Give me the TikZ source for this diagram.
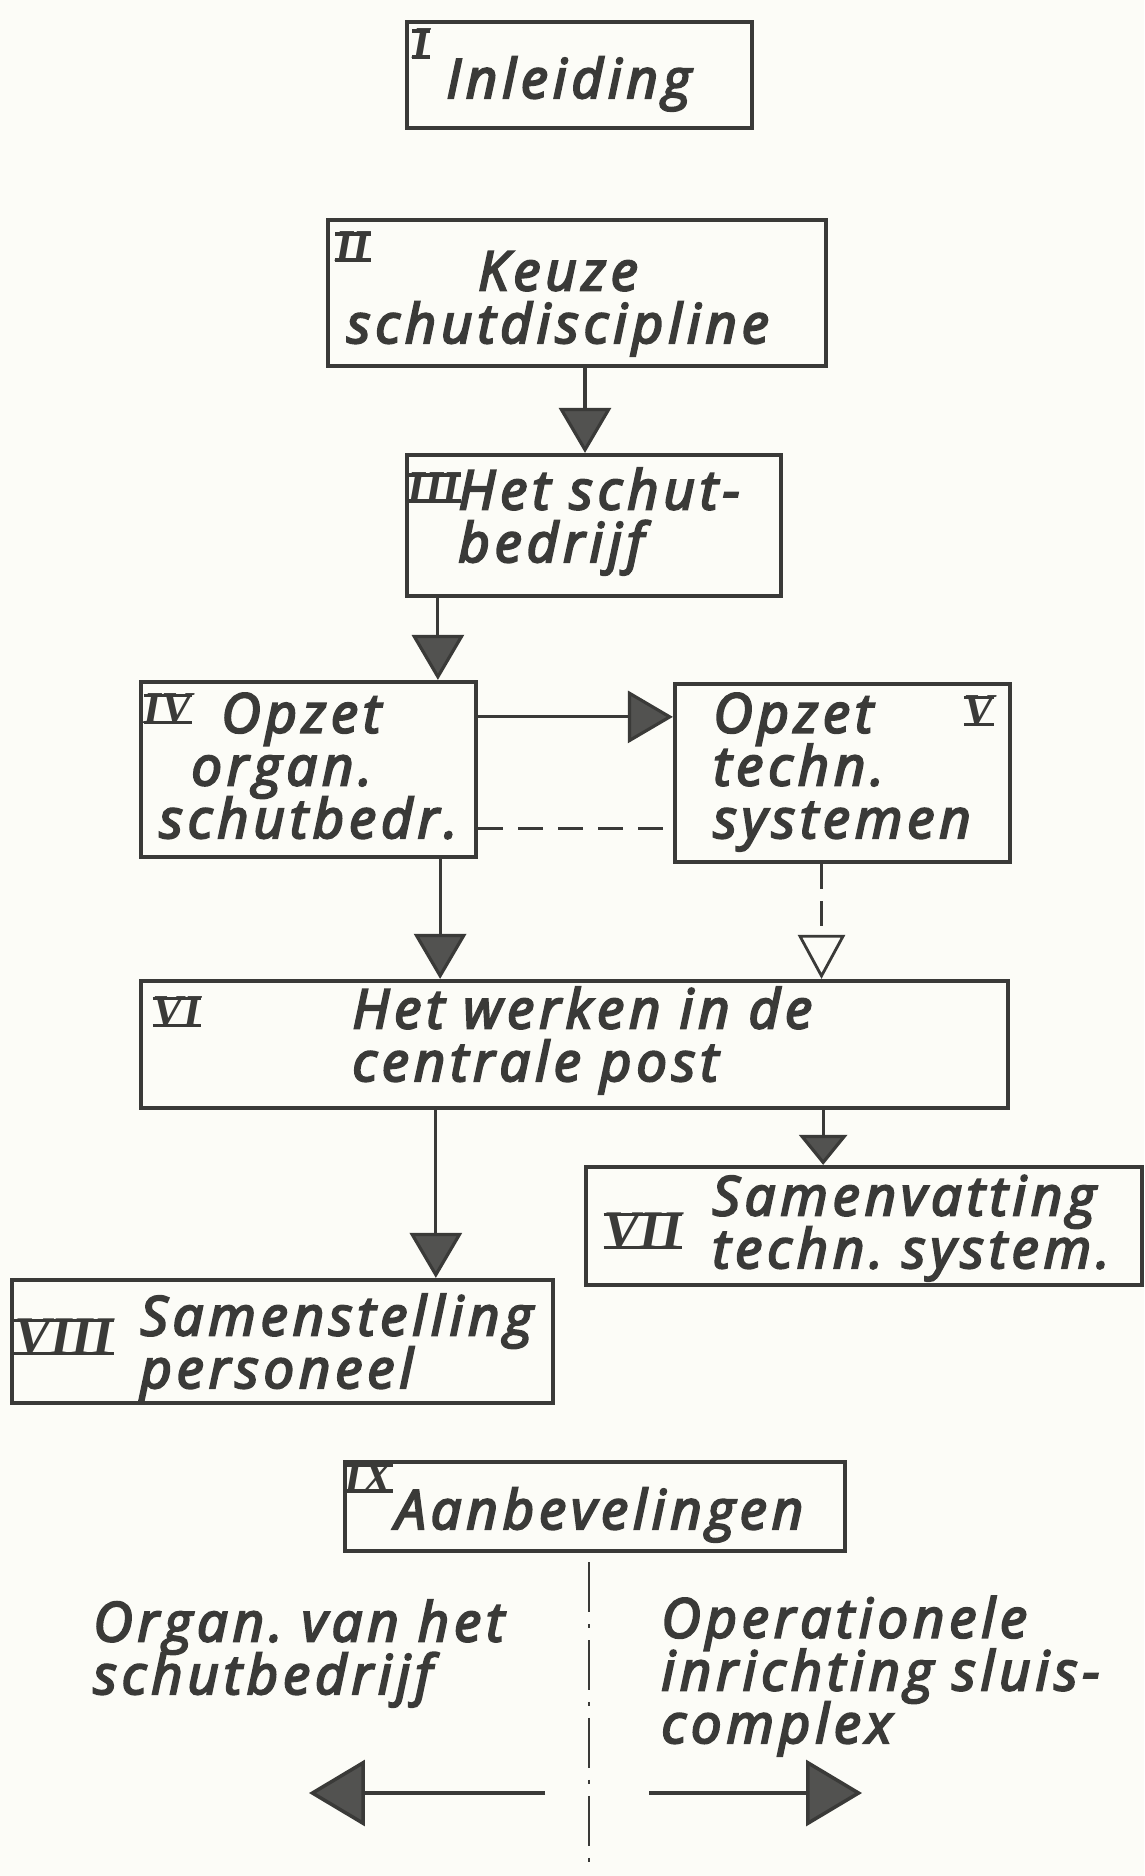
\documentclass[tikz,border=0pt]{standalone}
\usepackage{fontspec}
\setmainfont{Open Sans}[LetterSpace=9,ItalicFeatures={FakeBold=4}]
\newfontfamily\numfont{Liberation Serif}
\usetikzlibrary{arrows.meta,positioning,fit}
\definecolor{ink}{HTML}{3A3A38}
\definecolor{tipfill}{HTML}{525250}
\definecolor{paper}{HTML}{FCFCF7}
% roman chapter numbers with a bar above and below
\newcommand\rn[1]{{\setbox0=\hbox{\numfont\bfseries\itshape#1}%
  \vbox{\hrule height 2pt width \wd0\kern-2pt\box0\kern-2pt\hrule height 2pt}}}
% lines of a label keep their baseline distance even when letters touch
\newcommand\tightlines{\lineskiplimit=-40pt\relax}

\begin{document}
\begin{tikzpicture}[x=0.02cm,y=-0.02cm,
   font=\fontsize{31}{30}\selectfont\itshape\tightlines,text=ink,
   box/.style={draw=ink,line width=2.4pt,inner sep=0pt},
   txt/.style={inner sep=0pt,align=left,anchor=base west},
   num/.style={inner sep=0pt,font=\fontsize{26}{26}\selectfont},
   bignum/.style={num,font=\fontsize{31}{31}\selectfont},
   flow/.style={draw=ink,line width=1.8pt,
                -{Triangle[width=1.04cm,length=0.9cm,fill=tipfill]}},
   shortflow/.style={flow,-{Triangle[width=0.96cm,length=0.6cm,fill=tipfill]}},
   link/.style={draw=ink,line width=1.6pt,dash pattern=on 0.5cm off 0.3cm},
   linkflow/.style={link,dash pattern=on 0.5cm off 0.24cm,
                -{Triangle[open,width=0.94cm,length=0.88cm,line width=1.6pt]}},
   bigflow/.style={draw=ink,line width=2pt,
                -{Triangle[width=1.32cm,length=1.12cm,fill=tipfill]}},
   axis/.style={draw=ink,line width=1.3pt,
                dash pattern=on 1.0cm off 0.24cm on 0.08cm off 0.24cm}]
  \path[use as bounding box,fill=paper] (0,0) rectangle (1144,1876);

  % chapter boxes
  \node[box,fit={(407,22) (752,128)}] (i) {};
  \node[box,fit={(328,220) (826,366)}] (ii) {};
  \node[box,fit={(407,455) (781,596)}] (iii) {};
  \node[box,fit={(141,682) (476,857)}] (iv) {};
  \node[box,fit={(675,684) (1010,862)}] (v) {};
  \node[box,fit={(141,981) (1008,1108)}] (vi) {};
  \node[box,fit={(586,1167) (1142,1285)}] (vii) {};
  \node[box,fit={(12,1280) (553,1403)}] (viii) {};
  \node[box,fit={(345,1462) (845,1551)}] (ix) {};

  \node[num] (i-n) at (421,44) {\rn{I}};
  \node[num] (ii-n) at (353,247) {\rn{II}};
  \node[num] (iii-n) at (434,488) {\rn{III}};
  \node[num] (iv-n) at (168,709) {\rn{IV}};
  \node[num] (v-n) at (979,711) {\rn{V}};
  \node[num] (vi-n) at (177,1012) {\rn{VI}};
  \node[bignum] (vii-n) at (643,1231) {\rn{VII}};
  \node[bignum] (viii-n) at (64,1337) {\rn{VIII}};
  \node[num] (ix-n) at (369,1478) {\rn{IX}};

  % texts, placed by the baseline of their last line
  \node[txt] (i-t) at (446,98) {Inleiding};
  \node[txt,align=center,anchor=base] (ii-t) at (558,343) {Keuze\\schutdiscipline};
  \node[txt] (iii-t) at (458,562) {Het schut-\\bedrijf};
  \node[txt] (iv-t) at (159,838)
    {\hspace{1.24cm}Opzet\\\hspace{0.64cm}organ.\\schutbedr.};
  \node[txt] (v-t) at (713,838) {Opzet\\techn.\\systemen};
  \node[txt] (vi-t) at (352,1081) {Het werken in de\\centrale post};
  \node[txt] (vii-t) at (712,1268) {Samenvatting\\techn.\ system.};
  \node[txt] (viii-t) at (140,1388) {Samenstelling\\personeel};
  \node[txt] (ix-t) at (395,1529) {Aanbevelingen};

  \node[txt] (org) at (93,1694) {Organ.\ van het\\schutbedrijf};
  \node[txt] (ops) at (661,1743) {Operationele\\inrichting sluis-\\complex};

  % connectors
  \draw[flow] ([xshift=0.16cm]ii.south) -- ([xshift=0.16cm]ii.south |- iii.north);
  \draw[flow] ([xshift=0.66cm]iii.south west) -- ([xshift=0.66cm]iii.south west |- iv.north);
  \draw[flow] ([yshift=-0.74cm]iv.north east) -- ([yshift=-0.74cm]iv.north east -| v.west);
  \draw[link] ([yshift=0.62cm]iv.south east) -- ([yshift=0.62cm]iv.south east -| v.west);
  \draw[flow] ([xshift=-0.76cm]iv.south east) -- ([xshift=-0.76cm]iv.south east |- vi.north);
  \draw[linkflow] ([xshift=-0.42cm]v.south) -- ([xshift=-0.42cm]v.south |- vi.north);
  \draw[flow] ([xshift=5.94cm]vi.south west) -- ([xshift=5.94cm]vi.south west |- viii.north);
  \draw[shortflow] ([xshift=-3.74cm]vi.south east) -- ([xshift=-3.74cm]vi.south east |- vii.north);

  % split below the recommendations
  \coordinate (axtop) at (589,1562);
  \coordinate (axbot) at (589,1873);
  \draw[axis] (axtop) -- (axbot);
  \coordinate (lstart) at (545,1793);
  \coordinate (lend) at (309,1793);
  \coordinate (rstart) at (649,1793);
  \coordinate (rend) at (862,1793);
  \draw[bigflow] (lstart) -- (lend);
  \draw[bigflow] (rstart) -- (rend);
\end{tikzpicture}
\end{document}
